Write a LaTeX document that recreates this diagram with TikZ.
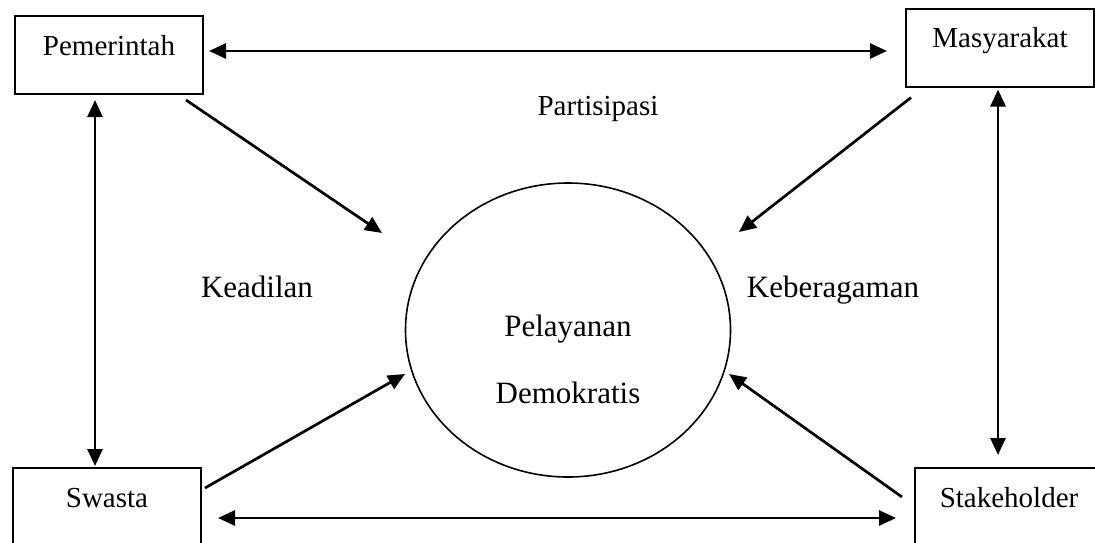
\documentclass[tikz,border=0pt]{standalone}
\usepackage{fontspec}
\setmainfont{Liberation Serif}
\usetikzlibrary{shapes.geometric,arrows.meta,calc}

\begin{document}
\begin{tikzpicture}[x=0.5pt, y=-0.5pt,
		box/.style = {draw, line width=1pt, minimum width=94pt, inner sep=0pt, text height=19.5pt, text depth=19.5pt, font=\fontsize{14.5}{17}\selectfont},
		circ/.style = {draw, ellipse, line width=0.8pt, minimum width=162.5pt, minimum height=147pt, inner sep=0pt},
		lbl/.style = {anchor=base, font=\fontsize{15.5}{18}\selectfont},
		arr/.style = {line width=1.35pt, -{Triangle[length=8.5pt,width=7.5pt]}},
		both/.style = {line width=1.35pt, {Triangle[length=8.5pt,width=7.5pt]}-{Triangle[length=8.5pt,width=7.5pt]}}]
		\useasboundingbox (0,0) rectangle (1095,542);
		\clip (0,0) rectangle (1095,542);
		\node[box] (pem) at (109,55) {Pemerintah};
		\node[box] (mas) at (1000,47.5) {Masyarakat};
		\node[box] (swa) at (107,507) {Swasta};
		\node[box] (sta) at (1009,507) {Stakeholder};
		\node[circ] (pel) at (568,330) {};
		\node[align=center, font=\fontsize{15.5}{33.5}\selectfont] (pd) at (568,359) {Pelayanan\\Demokratis};
		\node[lbl] (part) at (598,115) {\fontsize{14.5}{17}\selectfont Partisipasi};
		\node[lbl] (kead) at (257,297) {Keadilan};
		\node[lbl] (keb) at (833,297) {Keberagaman};
		% two-way links between the corners
		\draw[both] ($(pem.east)+(5,-4)$) to ($(mas.west)+(-18,3.5)$);
		\draw[both] ($(swa.east)+(16,11)$) to ($(sta.west)+(-18,11)$);
		\draw[both] ($(pem.south)+(-14,5)$) to ($(swa.north)+(-12,-1)$);
		\draw[both] ($(mas.south)+(-2,2)$) to ($(sta.north)+(-11,-12)$);
		% links into the centre
		\draw[arr] ($(pem.south east)+(-18,5)$) to ($(pel)+(-186,-97)$);
		\draw[arr] ($(mas.south west)+(6,10)$) to ($(pel)+(171,-98)$);
		\draw[arr] ($(swa.north east)+(3,21)$) to ($(pel)+(-163,44)$);
		\draw[arr] ($(sta.north west)+(-12,30)$) to ($(pel)+(161,44)$);

	\end{tikzpicture}
\end{document}
